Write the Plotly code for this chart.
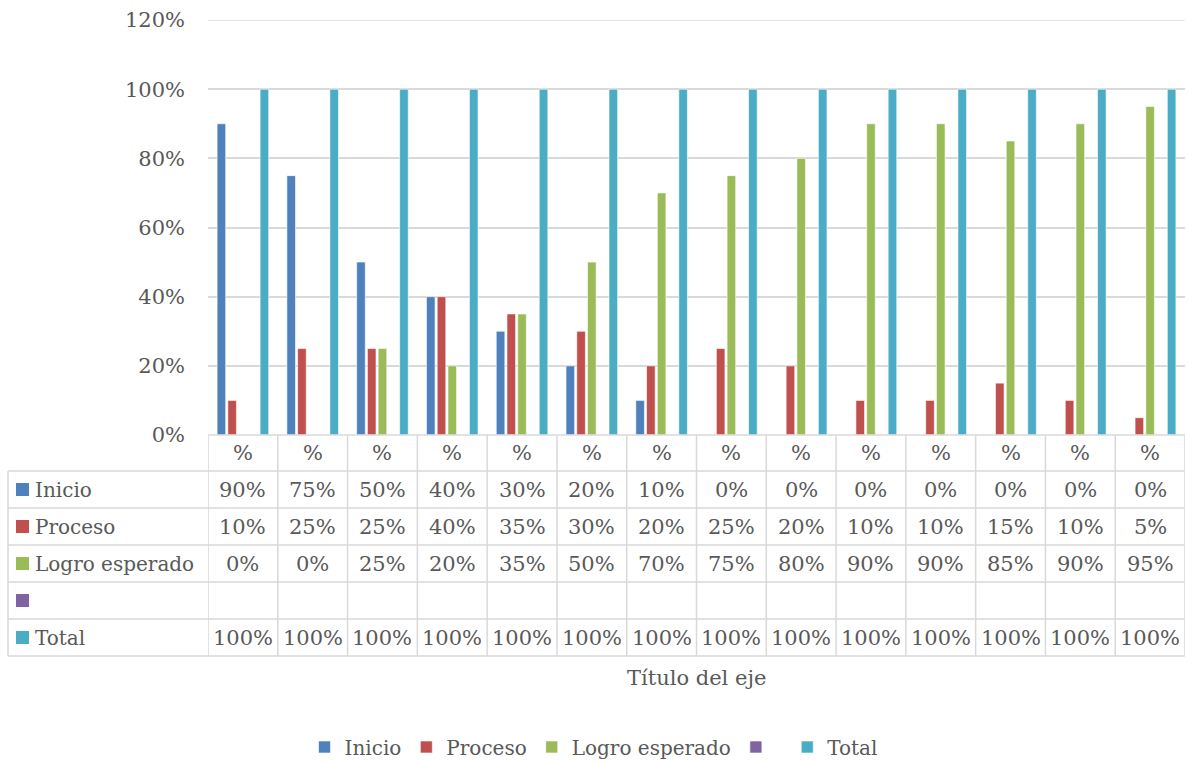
import plotly.graph_objects as go

categorias = ["%"] * 14
series = ["Inicio", "Proceso", "Logro esperado", "", "Total"]
inicio = [0.90, 0.75, 0.50, 0.40, 0.30, 0.20, 0.10, 0, 0, 0, 0, 0, 0, 0]
proceso = [0.10, 0.25, 0.25, 0.40, 0.35, 0.30, 0.20, 0.25, 0.20, 0.10, 0.10, 0.15, 0.10, 0.05]
logro = [0, 0, 0.25, 0.20, 0.35, 0.50, 0.70, 0.75, 0.80, 0.90, 0.90, 0.85, 0.90, 0.95]
vacio = [None] * 14
total = [1.0] * 14
colores = ["#4F81BD", "#C0504D", "#9BBB59", "#8064A2", "#4BACC6"]
ticks_y = [0, 0.2, 0.4, 0.6, 0.8, 1.0, 1.2]

valores = [inicio, proceso, logro, vacio, total]

FONT = "DejaVu Serif"
GRIS = "#595959"
LINEA = "#D9D9D9"

W, H = 1187, 762
L, R, T, B = 208, 2, 20, 327
plot_h = H - T - B
plot_w = W - L - R


def py(px_y):
    # pixel vertical -> coordenada paper
    return (H - B - px_y) / plot_h


def px_(px_x):
    return (px_x - L) / plot_w


xs = list(range(len(categorias)))

fig = go.Figure()
for nombre, vals, col in zip(series, valores, colores):
    fig.add_trace(go.Bar(
        x=xs, y=vals, name=nombre if nombre else " ",
        marker=dict(color=col, line=dict(color="white", width=0.6)),
    ))

shapes = []
# línea de cuadrícula superior (120%), plotly no la dibuja en el borde
shapes.append(dict(type="line", xref="paper", yref="y", x0=0, x1=1, y0=ticks_y[-1], y1=ticks_y[-1],
                   layer="below", line=dict(color=LINEA, width=1.5)))

# Tabla de datos debajo del gráfico
filas_y = [471, 508, 545, 582, 619, 656]  # bordes horizontales
fila_centro = [(filas_y[i] + filas_y[i + 1]) / 2 for i in range(5)]
# bordes horizontales
shapes.append(dict(type="line", xref="paper", yref="paper", x0=0, x1=1, y0=py(435), y1=py(435),
                   line=dict(color=LINEA, width=1.5)))
for yy in filas_y:
    shapes.append(dict(type="line", xref="paper", yref="paper", x0=px_(8), x1=1, y0=py(yy), y1=py(yy),
                       line=dict(color=LINEA, width=1.5)))
# bordes verticales
for i in range(len(categorias) + 1):
    shapes.append(dict(type="line", xref="x", yref="paper", x0=i - 0.5, x1=i - 0.5,
                       y0=py(435), y1=py(filas_y[-1]), line=dict(color=LINEA, width=1.5)))
shapes.append(dict(type="line", xref="paper", yref="paper", x0=px_(8), x1=px_(8),
                   y0=py(filas_y[0]), y1=py(filas_y[-1]), line=dict(color=LINEA, width=1.5)))

annotations = []
celda = dict(showarrow=False, xanchor="center", yanchor="middle",
             font=dict(family=FONT, size=21, color=GRIS))
# fila de categorías
for i, c in enumerate(categorias):
    annotations.append(dict(x=i, y=py(453), xref="x", yref="paper", text=c, **celda))
# filas de series
for r, (nombre, vals, col) in enumerate(zip(series, valores, colores)):
    yc = py(fila_centro[r])
    shapes.append(dict(type="rect", xref="paper", yref="paper",
                       x0=px_(16), x1=px_(29), y0=py(fila_centro[r] - 6.5), y1=py(fila_centro[r] + 6.5),
                       fillcolor=col, line=dict(width=0)))
    annotations.append(dict(x=px_(33), y=yc, xref="paper", yref="paper", text=nombre, showarrow=False,
                            xanchor="left", yanchor="middle",
                            font=dict(family=FONT, size=20, color=GRIS)))
    for i, v in enumerate(vals):
        if v is None:
            continue
        annotations.append(dict(x=i, y=yc, xref="x", yref="paper", text=f"{round(v * 100)}%", **celda))

# título del eje
annotations.append(dict(x=0.5, y=py(678), xref="paper", yref="paper", text="Título del eje",
                        showarrow=False, xanchor="center", yanchor="middle",
                        font=dict(family=FONT, size=21, color=GRIS)))

fig.update_layout(
    width=W, height=H,
    margin=dict(l=L, r=R, t=T, b=B, autoexpand=False),
    plot_bgcolor="white", paper_bgcolor="white",
    barmode="group", bargap=0.23, bargroupgap=0.2,
    font=dict(family=FONT, size=20, color=GRIS),
    shapes=shapes, annotations=annotations,
    legend=dict(orientation="h", xref="container", yref="container", x=0.5, y=(H - 747) / H,
                xanchor="center", yanchor="middle", font=dict(family=FONT, size=20, color=GRIS),
                itemwidth=30, tracegroupgap=0),
)
fig.update_xaxes(range=[-0.5, len(categorias) - 0.5], showticklabels=False, showgrid=False,
                 zeroline=False, fixedrange=True)
fig.update_yaxes(range=[0, 1.2], tickvals=ticks_y, tickformat=".0%", showgrid=True, gridcolor=LINEA,
                 gridwidth=1.5, zeroline=False, ticks="", ticklabelstandoff=22,
                 tickfont=dict(family=FONT, size=21, color=GRIS), fixedrange=True)

# sin margen del body para que la figura quede en (0, 0)
fig.write_html("out.html", config={"displayModeBar": False},
               post_script="document.body.style.margin='0';")
